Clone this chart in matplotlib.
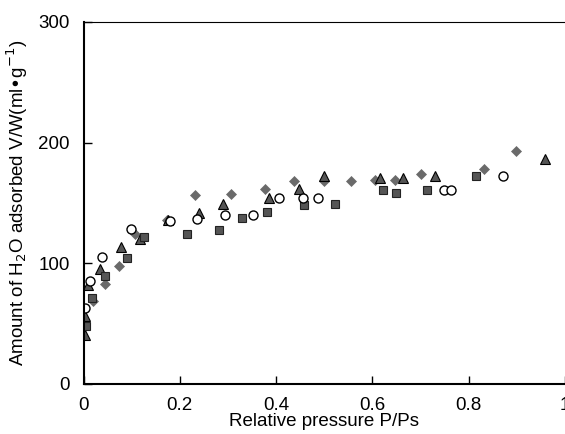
import matplotlib

matplotlib.use("Agg")

import matplotlib.pyplot as plt

# open circles
circle_x = [0.003, 0.013, 0.039, 0.099, 0.180, 0.235, 0.294, 0.352, 0.406, 0.455, 0.487, 0.748, 0.764, 0.872]
circle_y = [63, 85.4, 105, 128.7, 135, 137, 140, 140, 154, 154, 154, 160.8, 161, 172]

# filled squares
square_x = [0.005, 0.018, 0.045, 0.091, 0.126, 0.215, 0.281, 0.330, 0.382, 0.457, 0.523, 0.622, 0.648, 0.713, 0.816]
square_y = [48, 71, 89.5, 104.7, 121.7, 124.5, 127.3, 137.4, 142.4, 148, 148.8, 161, 158, 161, 172.7]

# filled triangles
tri_x = [0.003, 0.003, 0.010, 0.034, 0.077, 0.117, 0.175, 0.240, 0.290, 0.385, 0.448, 0.499, 0.615, 0.663, 0.731, 0.958]
tri_y = [40.5, 56, 82, 95, 113.5, 120.5, 136, 142, 149.5, 154, 162, 172, 171, 171, 172, 186.5]

# filled diamonds
dia_x = [0.020, 0.045, 0.074, 0.107, 0.173, 0.231, 0.306, 0.377, 0.437, 0.499, 0.556, 0.605, 0.647, 0.700, 0.832, 0.899]
dia_y = [69, 82.6, 97.5, 124.5, 136, 157, 157.6, 162, 168, 168, 168.6, 169.4, 169.4, 174, 178, 193]

x_ticks = [0, 0.2, 0.4, 0.6, 0.8, 1]
x_ticklabels = ["0", "0.2", "0.4", "0.6", "0.8", "1"]
y_ticks = [0, 100, 200, 300]

plt.rcParams["font.family"] = ["Liberation Sans", "DejaVu Sans"]

fig = plt.figure(figsize=(5.65, 4.34), dpi=100)
ax = fig.add_axes([83.5 / 565, 50 / 434, 1 - 83.5 / 565, 362 / 434])

ax.plot(dia_x, dia_y, linestyle="none", marker="D", markersize=5.4,
        markerfacecolor="#6a6a6a", markeredgecolor="#6a6a6a", markeredgewidth=0.5)
ax.plot(tri_x, tri_y, linestyle="none", marker="^", markersize=6.8,
        markerfacecolor="#555555", markeredgecolor="black", markeredgewidth=0.8)
ax.plot(square_x, square_y, linestyle="none", marker="s", markersize=6.3,
        markerfacecolor="#555555", markeredgecolor="#222222", markeredgewidth=0.8)
ax.plot(circle_x, circle_y, linestyle="none", marker="o", markersize=6.5,
        markerfacecolor="white", markeredgecolor="black", markeredgewidth=1.0)

ax.set_xlim(0, 1)
ax.set_ylim(0, 300)
ax.set_xticks(x_ticks)
ax.set_xticklabels(x_ticklabels)
ax.set_yticks(y_ticks)
ax.tick_params(direction="in", length=6, width=1, labelsize=13.5)
ax.tick_params(axis="x", pad=9)
ax.tick_params(axis="y", pad=10)
ax.spines["right"].set_visible(False)
ax.spines["left"].set_linewidth(1.5)
ax.spines["bottom"].set_linewidth(1.5)
ax.spines["top"].set_linewidth(0.8)

ax.set_xlabel("Relative pressure P/Ps", fontsize=13.5, labelpad=0)
ax.set_ylabel("Amount of H$_2$O adsorbed V/W(ml\u2022g$^{-1}$)", fontsize=13.5, labelpad=6)

fig.savefig("out.png", dpi=100)
